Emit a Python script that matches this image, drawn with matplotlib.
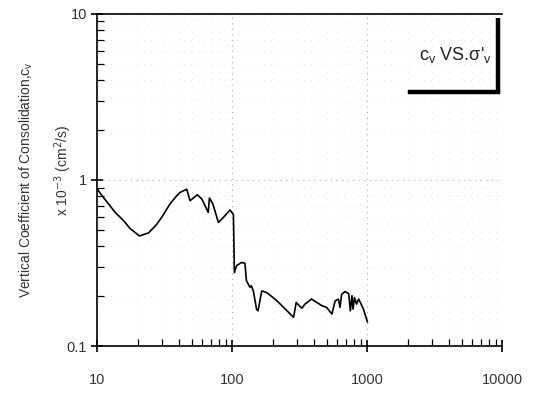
import matplotlib
matplotlib.use("Agg")
import matplotlib.pyplot as plt
from matplotlib.ticker import LogLocator, NullFormatter, FixedLocator, FixedFormatter

# effective vertical stress (kPa) and cv (x 10^-3 cm2/s)
stress = [10, 11, 12.4, 13.5, 15.6, 17.5, 20.5, 23.9, 27.5, 30.5, 34.5, 38, 41.0, 45.9,
          48.6, 55.0, 59.4, 66.3, 67.6, 71.7, 78.8, 85.8, 96.1, 101.8, 103.5, 107.6,
          117, 124, 127, 135, 138, 143, 151, 155, 165, 180, 213, 284, 297, 327, 345,
          386, 461, 499, 546, 577, 610, 627, 645, 683, 727, 748, 769, 783, 803, 831,
          862, 935, 1000]
cv = [0.88, 0.79, 0.70, 0.64, 0.57, 0.51, 0.46, 0.48, 0.54, 0.61, 0.717, 0.79, 0.842, 0.88,
      0.75, 0.815, 0.768, 0.638, 0.779, 0.717, 0.555, 0.595, 0.66, 0.62, 0.277, 0.305,
      0.319, 0.315, 0.248, 0.226, 0.231, 0.215, 0.167, 0.163, 0.215, 0.21, 0.188, 0.149,
      0.183, 0.169, 0.179, 0.192, 0.175, 0.171, 0.156, 0.187, 0.192, 0.171, 0.205, 0.213,
      0.207, 0.163, 0.201, 0.167, 0.196, 0.179, 0.192, 0.167, 0.14]

x_ticks = [10, 100, 1000, 10000]
x_labels = ["10", "100", "1000", "10000"]
y_ticks = [0.1, 1, 10]
y_labels = ["0.1", "1", "10"]

plt.rcParams["font.family"] = ["Liberation Sans", "DejaVu Sans"]

fig = plt.figure(figsize=(5.35, 3.96), dpi=100)
ax = fig.add_axes([0.182, 0.126, 0.757, 0.839])

ax.plot(stress, cv, color="black", lw=1.2)

ax.set_xscale("log")
ax.set_yscale("log")
ax.set_xlim(10, 10000)
ax.set_ylim(0.1, 10)

ax.xaxis.set_major_locator(FixedLocator(x_ticks))
ax.xaxis.set_major_formatter(FixedFormatter(x_labels))
ax.yaxis.set_major_locator(FixedLocator(y_ticks))
ax.yaxis.set_major_formatter(FixedFormatter(y_labels))
ax.xaxis.set_minor_locator(LogLocator(base=10, subs=range(2, 10)))
ax.yaxis.set_minor_locator(LogLocator(base=10, subs=range(2, 10)))
ax.xaxis.set_minor_formatter(NullFormatter())
ax.yaxis.set_minor_formatter(NullFormatter())

ax.tick_params(which="major", direction="inout", length=9, width=1.2,
               labelsize=10.5, labelcolor="#333333")
ax.tick_params(which="minor", direction="in", length=5, width=0.9)
ax.tick_params(axis="x", which="major", pad=15)
ax.tick_params(axis="y", which="major", pad=3)

ax.grid(which="major", ls=(0, (1, 4)), color="#aaaaaa", lw=0.8)
ax.grid(which="minor", ls=(0, (1, 7)), color="#e0e0e0", lw=0.6)

for side in ["left", "bottom", "top"]:
    ax.spines[side].set_linewidth(1.2)
ax.spines["right"].set_visible(False)

ax.text(-0.175, 0.5, r"Vertical Coefficient of Consolidation,c$_\mathregular{v}$",
        transform=ax.transAxes, rotation=90, ha="center", va="center",
        fontsize=10, color="#333333")
ax.text(-0.085, 0.53, r"x 10$^{-3}$ (cm$^2$/s)", transform=ax.transAxes,
        rotation=90, ha="center", va="center", fontsize=10, color="#333333")

# title box with heavy shadow edges
ax.text(0.885, 0.877, r"c$_\mathregular{v}$ VS.σ'$_\mathregular{v}$", transform=ax.transAxes,
        ha="center", va="center", fontsize=13, color="#222222")
ax.plot([0.989, 0.989], [0.988, 0.765], transform=ax.transAxes, color="black",
        lw=3.2, solid_capstyle="butt", clip_on=False)
ax.plot([0.772, 0.989], [0.765, 0.765], transform=ax.transAxes, color="black",
        lw=3.2, solid_capstyle="projecting", clip_on=False)

fig.savefig("out.png", dpi=100)
